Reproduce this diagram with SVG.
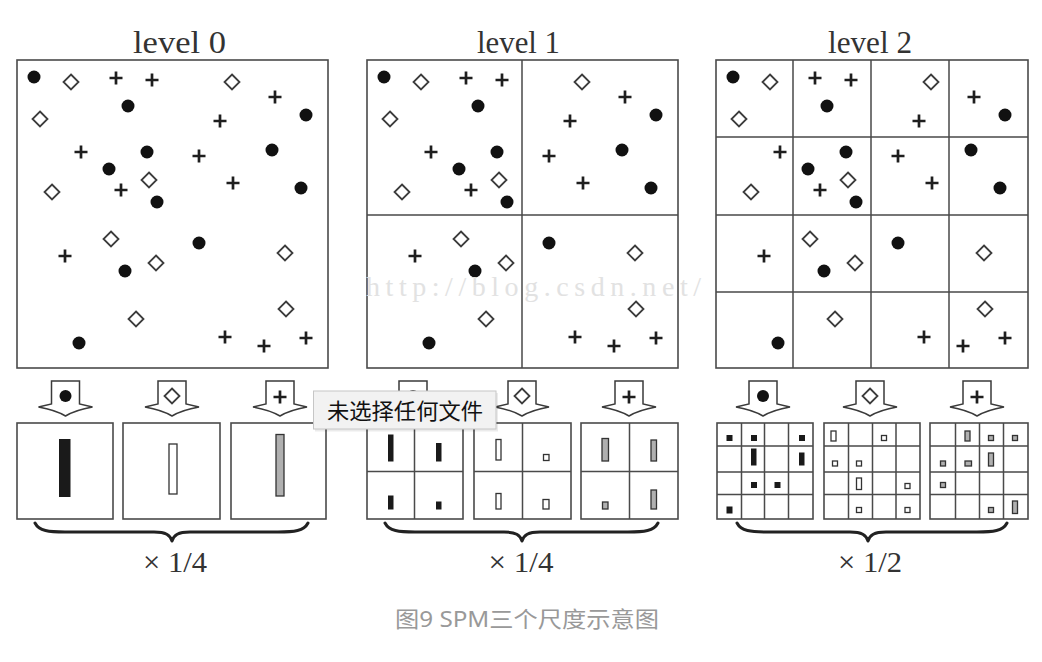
<svg xmlns="http://www.w3.org/2000/svg" xmlns:xlink="http://www.w3.org/1999/xlink" width="1042" height="662" viewBox="0 0 1042 662">
<style>
.frame{fill:#fff;stroke:#4a4a4a;stroke-width:1.6}
.grid{stroke:#4a4a4a;stroke-width:1.5;fill:none}
.dot{fill:#111}
.dia{fill:#fff;stroke:#3c3c3c;stroke-width:1.8}
.plus{stroke:#1e1e1e;stroke-width:2.7;fill:none}
.title{font-family:"Liberation Serif","Times New Roman",serif;font-size:32px;fill:#333}
.scale{font-family:"Liberation Serif","Times New Roman",serif;font-size:30px;fill:#333}
.arrow{fill:#fff;stroke:#3a3a3a;stroke-width:1.5;stroke-linejoin:miter}
.bk{fill:#1a1a1a;stroke:#1a1a1a;stroke-width:1}
.wh{fill:#fff;stroke:#333;stroke-width:1.3}
.gy{fill:#b0b0b0;stroke:#333;stroke-width:1.3}
.brace{fill:none;stroke:#222;stroke-width:3;stroke-linecap:round;stroke-linejoin:round}
.wm{font-family:"Liberation Serif","Times New Roman",serif;font-size:28px;fill:#e2e2e2}
.cap{font-family:"Noto Sans","Noto Sans CJK SC",sans-serif;font-size:22px;fill:#999}
.tip{font-family:"Noto Sans CJK SC",sans-serif;font-size:22px;fill:#111}
</style>
<defs>
<circle id="d" class="dot" r="6.5"/>
<path id="m" class="dia" d="M0,-7.5L7.5,0L0,7.5L-7.5,0Z"/>
<path id="p" class="plus" d="M-6.5,0H6.5M0,-6.5V6.5"/>
<path id="arr" class="arrow" d="M-14,0H14V23L27,26Q10,29 0,35Q-10,29 -27,26L-14,23Z"/>
<g id="pts">
<use href="#d" x="34" y="77"/><use href="#d" x="128" y="106"/><use href="#d" x="306" y="115"/><use href="#d" x="147" y="152"/><use href="#d" x="272" y="150"/><use href="#d" x="109" y="169"/><use href="#d" x="301" y="188"/><use href="#d" x="157" y="202"/><use href="#d" x="199" y="243"/><use href="#d" x="125" y="271"/><use href="#d" x="79" y="343"/>
<use href="#m" x="71" y="82"/><use href="#m" x="232" y="82"/><use href="#m" x="40" y="119"/><use href="#m" x="149" y="180"/><use href="#m" x="52" y="192"/><use href="#m" x="111" y="239"/><use href="#m" x="156" y="263"/><use href="#m" x="285" y="253"/><use href="#m" x="286" y="309"/><use href="#m" x="136" y="319"/>
<use href="#p" x="116" y="78"/><use href="#p" x="152" y="80"/><use href="#p" x="275" y="97"/><use href="#p" x="220" y="121"/><use href="#p" x="81" y="152"/><use href="#p" x="199" y="156"/><use href="#p" x="121" y="190"/><use href="#p" x="233" y="183"/><use href="#p" x="65" y="256"/><use href="#p" x="225" y="337"/><use href="#p" x="264" y="346"/><use href="#p" x="306" y="338"/>
</g>
</defs>
<rect width="1042" height="662" fill="#fff"/>

<g id="level0">
<text class="title" x="133" y="53" textLength="93" lengthAdjust="spacingAndGlyphs">level 0</text>
<rect class="frame" x="17" y="60" width="311" height="308"/>
<use href="#pts"/>
</g>

<g id="level1">
<text class="title" x="477" y="53" textLength="83" lengthAdjust="spacingAndGlyphs">level 1</text>
<rect class="frame" x="367" y="60" width="311" height="308"/>
<path class="grid" d="M522,60V368M367,215H678"/>
<use href="#pts" transform="translate(350,0)"/>
</g>

<g id="level2">
<text class="title" x="828" y="53" textLength="84" lengthAdjust="spacingAndGlyphs">level 2</text>
<rect class="frame" x="716" y="60" width="312" height="308"/>
<path class="grid" d="M793,60V368M871,60V368M949,60V368M716,137H1028M716,215H1028M716,292H1028"/>
<use href="#pts" transform="translate(699,0)"/>
</g>

<text class="wm" x="366" y="296" textLength="335" lengthAdjust="spacing">http://blog.csdn.net/</text>

<g id="connectors">
<use href="#arr" x="65.5" y="381"/><use href="#arr" x="172" y="381"/><use href="#arr" x="280" y="381"/>
<use href="#arr" x="413" y="381"/><use href="#arr" x="522" y="381"/><use href="#arr" x="629" y="381"/>
<use href="#arr" x="763" y="381"/><use href="#arr" x="870" y="381"/><use href="#arr" x="977" y="381"/>
<circle class="dot" cx="65.5" cy="396" r="6"/><use href="#m" x="172" y="396"/><use href="#p" x="280" y="397"/>
<circle class="dot" cx="413" cy="396" r="6"/><use href="#m" x="522" y="396"/><use href="#p" x="629" y="397"/>
<circle class="dot" cx="763" cy="396" r="6"/><use href="#m" x="870" y="396"/><use href="#p" x="977" y="397"/>
<path class="brace" d="M35,523C39,531 49,532 65,532L154,532C166,532 170,535 172,541C174,535 178,532 190,532L278,532C294,532 304,531 308,523"/>
<path class="brace" d="M385,523C389,531 399,532 415,532L504,532C516,532 520,535 522,541C524,535 528,532 540,532L628,532C644,532 654,531 658,523"/>
<path class="brace" d="M737,523C741,531 751,532 767,532L850,532C862,532 866,535 868,541C870,535 874,532 886,532L977,532C993,532 1003,531 1007,523"/>
</g>

<g id="hist0">
<rect class="frame" x="17" y="423" width="96" height="96"/>
<rect class="frame" x="123" y="423" width="97" height="96"/>
<rect class="frame" x="231" y="423" width="95" height="96"/>
<rect class="bk" x="59.5" y="439.5" width="10.5" height="57"/>
<rect class="wh" x="169" y="444" width="8" height="50"/>
<rect class="gy" x="276" y="434.5" width="8" height="61.5"/>
<text class="scale" x="175" y="572" text-anchor="middle" textLength="64" lengthAdjust="spacingAndGlyphs">× 1/4</text>
</g>

<g id="hist1">
<rect class="frame" x="367" y="423" width="96" height="96"/>
<rect class="frame" x="474" y="423" width="97" height="96"/>
<rect class="frame" x="581" y="423" width="97" height="96"/>
<path class="grid" d="M414.5,423V519M367,471.5H463M522.5,423V519M474,471.5H571M629.5,423V519M581,471.5H678"/>
<rect class="bk" x="388.5" y="435" width="4.5" height="26"/>
<rect class="bk" x="436.5" y="443.5" width="4.5" height="17.5"/>
<rect class="bk" x="388.5" y="496" width="4.5" height="13"/>
<rect class="bk" x="436.5" y="502" width="4.5" height="7"/>
<rect class="wh" x="496" y="439.5" width="5" height="20.5"/>
<rect class="wh" x="543.5" y="454.5" width="5.5" height="6"/>
<rect class="wh" x="496" y="493.5" width="5" height="15.5"/>
<rect class="wh" x="543" y="499.5" width="6" height="9.5"/>
<rect class="gy" x="602" y="438.5" width="6.5" height="22.5"/>
<rect class="gy" x="651" y="440" width="5.5" height="21"/>
<rect class="gy" x="602.5" y="502" width="5.5" height="7"/>
<rect class="gy" x="651" y="490" width="5.5" height="19"/>
<text class="scale" x="521" y="572" text-anchor="middle" textLength="65" lengthAdjust="spacingAndGlyphs">× 1/4</text>
</g>

<g id="hist2">
<rect class="frame" x="717" y="423" width="96" height="96"/>
<rect class="frame" x="824" y="423" width="96" height="96"/>
<rect class="frame" x="930" y="423" width="98" height="96"/>
<path class="grid" d="M741.5,423V519M764.5,423V519M788.5,423V519M717,446H813M717,472H813M717,494.5H813"/>
<path class="grid" d="M848.5,423V519M872.5,423V519M896,423V519M824,446H920M824,472H920M824,494.5H920"/>
<path class="grid" d="M955.5,423V519M979.5,423V519M1003.5,423V519M930,446H1028M930,472H1028M930,494.5H1028"/>
<rect class="bk" x="727" y="435.5" width="5" height="5"/>
<rect class="bk" x="751.5" y="435.5" width="5" height="5"/>
<rect class="bk" x="799.5" y="435.5" width="5" height="5"/>
<rect class="bk" x="751.5" y="449" width="4.5" height="16"/>
<rect class="bk" x="799.5" y="453" width="4.5" height="12"/>
<rect class="bk" x="751.5" y="482.5" width="5" height="5"/>
<rect class="bk" x="775" y="482.5" width="5" height="5"/>
<rect class="bk" x="727" y="507" width="5" height="6"/>
<rect class="wh" x="831" y="431" width="5" height="10"/>
<rect class="wh" x="881.5" y="435.5" width="5" height="5"/>
<rect class="wh" x="832.5" y="461" width="5" height="5"/>
<rect class="wh" x="856.5" y="461" width="5" height="5"/>
<rect class="wh" x="856.5" y="478" width="5" height="11.5"/>
<rect class="wh" x="905" y="483.5" width="5" height="5"/>
<rect class="wh" x="856.5" y="507.5" width="5" height="5"/>
<rect class="wh" x="905" y="507.5" width="5" height="5"/>
<rect class="gy" x="965" y="431" width="5" height="10"/>
<rect class="gy" x="988.5" y="435.5" width="5" height="5"/>
<rect class="gy" x="1012.5" y="435.5" width="5" height="5"/>
<rect class="gy" x="940.5" y="461" width="5" height="5"/>
<rect class="gy" x="965" y="461" width="6.5" height="5"/>
<rect class="gy" x="988.5" y="453" width="5" height="13"/>
<rect class="gy" x="940.5" y="482.5" width="5" height="5"/>
<rect class="gy" x="988.5" y="507.5" width="5" height="5"/>
<rect class="gy" x="1012.5" y="501" width="5" height="12.5"/>
<text class="scale" x="870" y="572" text-anchor="middle" textLength="64" lengthAdjust="spacingAndGlyphs">× 1/2</text>
</g>

<text class="cap" x="395" y="627" textLength="264" lengthAdjust="spacingAndGlyphs">图9 SPM三个尺度示意图</text>

<g id="tooltip">
<rect x="315" y="393" width="183" height="38.5" fill="#000" opacity="0.08"/>
<rect x="313.5" y="391" width="182.5" height="38" fill="#f2f2f2" stroke="#c6c6c6" stroke-width="1"/>
<text class="tip" x="327" y="419" textLength="156" lengthAdjust="spacingAndGlyphs">未选择任何文件</text>
</g>
</svg>
